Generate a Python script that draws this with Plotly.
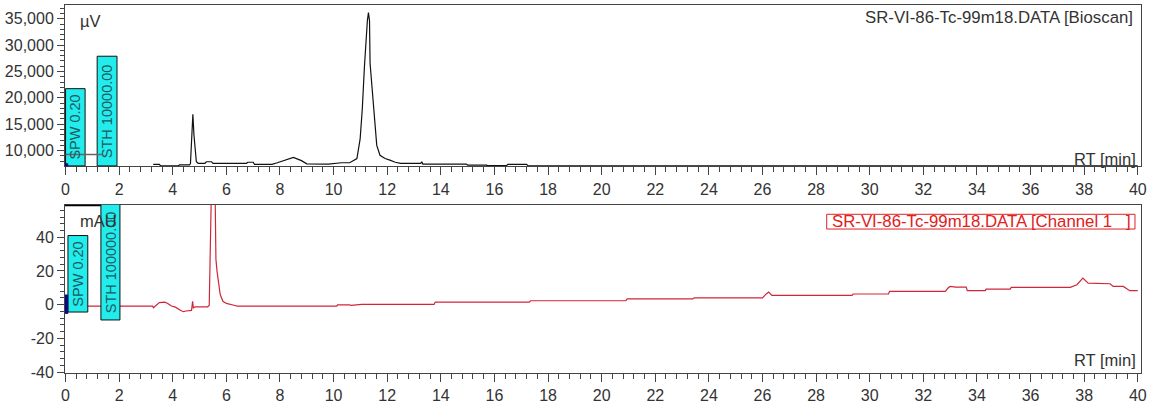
import plotly.graph_objects as go

# ---- Bioscan radio trace (µV) ----
bioscan_rt = [3.27, 3.50, 3.55, 4.20, 4.25, 4.62, 4.66, 4.72, 4.75, 4.79, 4.83, 4.88,
              4.95, 5.20, 5.25, 5.45, 5.50, 6.75, 6.80, 7.00, 7.05, 7.70, 7.90, 8.20,
              8.50, 8.80, 9.00, 9.80, 10.00, 10.30, 10.60, 10.87, 10.99, 11.07, 11.15,
              11.20, 11.26, 11.30, 11.34, 11.36, 11.45, 11.52, 11.61, 11.73, 11.92,
              12.10, 12.30, 12.50, 13.25, 13.29, 13.33, 14.95, 15.00, 15.70, 15.75,
              16.45, 16.50, 17.20, 17.26, 40.00]
bioscan_uv = [7390, 7390, 7100, 7100, 7280, 7280, 7500, 14000, 16900, 13000, 10900, 7890,
              7600, 7600, 7890, 7890, 7600, 7600, 7800, 7800, 7400, 7400, 7700, 8200,
              8700, 8100, 7500, 7450, 7600, 7700, 7700, 8500, 12240, 17840, 25920,
              30280, 34630, 36180, 34630, 26600, 20320, 15350, 10990, 9120, 8510,
              8190, 7800, 7580, 7580, 7890, 7450, 7450, 7260, 7260, 7150,
              7150, 7390, 7390, 7090, 7090]

# ---- UV channel trace (mAU) ----
uv_rt = [0.00, 3.25, 3.28, 3.35, 3.50, 3.70, 3.80, 3.95, 4.10, 4.30, 4.40, 4.50, 4.70,
         4.74, 4.77, 4.83, 5.30, 5.36, 5.39, 5.42, 5.45, 5.51, 5.58, 5.61, 5.65, 5.70,
         5.77, 5.87, 6.00, 6.32, 6.40, 10.12, 10.15, 10.60, 10.65, 11.05, 13.75, 13.79,
         17.30, 17.35, 20.90, 20.95, 23.40, 23.45, 26.00, 26.15, 26.23, 26.35, 29.34,
         29.38, 30.70, 30.74, 32.82, 32.93, 33.00, 33.20, 33.60, 33.64, 34.31, 34.34,
         35.24, 35.28, 37.48, 37.73, 37.95, 38.15, 38.97, 39.08, 39.46, 39.70, 40.00]
uv_mau = [-0.9, -0.9, -1.9, -0.8, 1.2, 1.5, 0.8, -0.8, -1.5, -3.5, -4.2, -3.8, -3.4,
          2.0, -2.0, -1.3, -1.3, -0.5, 25.0, 32.0, 75.0, 160.0, 75.0, 27.0, 20.0, 12.7,
          6.0, 2.0, 0.7, -0.5, -0.9, -0.9, -0.1, -0.1, -0.5, 0.1, 0.1, 1.5,
          1.5, 2.3, 2.3, 3.4, 3.4, 4.0, 4.0, 6.5, 7.5, 5.5, 5.5,
          6.3, 6.3, 7.9, 7.9, 10.0, 10.8, 10.4, 10.4, 8.3, 8.3, 9.2,
          9.2, 10.2, 10.2, 11.8, 15.7, 12.7, 12.4, 10.8, 10.8, 8.3, 8.3]

# ---- axis ticks ----
rt_ticks = list(range(0, 41, 2))
rt_labels = [str(v) for v in rt_ticks]
uv_top_ticks = [10000, 15000, 20000, 25000, 30000, 35000]
uv_top_labels = ["10,000", "15,000", "20,000", "25,000", "30,000", "35,000"]
mau_ticks = [-40, -20, 0, 20, 40]
mau_labels = ["-40", "-20", "0", "20", "40"]

FONT = "Arial, Liberation Sans, sans-serif"
TXT = "#333333"
AX = "#444444"
CYAN = "#22ecec"
BOXTXT = "#1c5a60"

fig = go.Figure()
fig.add_trace(go.Scatter(x=bioscan_rt, y=bioscan_uv, mode="lines",
                         line=dict(color="#111111", width=1.2),
                         xaxis="x", yaxis="y", showlegend=False))
fig.add_trace(go.Scatter(x=uv_rt, y=uv_mau, mode="lines",
                         line=dict(color="#d0263a", width=1.2),
                         xaxis="x2", yaxis="y2", showlegend=False))

xcommon = dict(range=[-0.02, 40.12], tickvals=rt_ticks, ticktext=rt_labels,
               ticks="outside", ticklen=8, tickwidth=1, tickcolor=AX,
               showline=True, linecolor=AX, linewidth=1, mirror=True,
               showgrid=False, zeroline=False,
               tickfont=dict(family=FONT, size=16, color=TXT),
               minor=dict(dtick=0.4, tick0=0, ticks="outside", ticklen=5,
                          tickcolor=AX, showgrid=False))
ycommon = dict(ticks="outside", ticklen=7, tickwidth=1, tickcolor=AX,
               showline=True, linecolor=AX, linewidth=1, mirror=True,
               showgrid=False, zeroline=False,
               tickfont=dict(family=FONT, size=16, color=TXT))

fig.update_layout(
    width=1156, height=408,
    margin=dict(l=65, r=15, t=4, b=30),
    paper_bgcolor="white", plot_bgcolor="white",
    xaxis=dict(anchor="y", **xcommon),
    xaxis2=dict(anchor="y2", **xcommon),
    yaxis=dict(domain=[0.5615, 1.0], range=[7015, 37612],
               tickvals=uv_top_ticks, ticktext=uv_top_labels,
               minor=dict(dtick=1000, tick0=0, ticks="outside", ticklen=4,
                          tickcolor=AX, showgrid=False),
               **ycommon),
    yaxis2=dict(domain=[0.0, 0.4572], range=[-40.58, 59.27],
                tickvals=mau_ticks, ticktext=mau_labels,
                minor=dict(dtick=4, tick0=0, ticks="outside", ticklen=4,
                           tickcolor=AX, showgrid=False),
                **ycommon),
)

# Integration parameter boxes (SPW / STH)
boxes = [
    ("x", "y", 0.00, 0.73, 7100, 21750, "SPW 0.20"),
    ("x", "y", 1.18, 1.92, 7100, 27900, "STH 10000.00"),
    ("x2", "y2", 0.09, 0.83, -4.4, 41.0, "SPW 0.20"),
    ("x2", "y2", 1.32, 2.03, -9.1, 59.9, "STH 100000.00"),
]
for xr, yr, x0, x1, y0, y1, label in boxes:
    fig.add_shape(type="rect", xref=xr, yref=yr, x0=x0, x1=x1, y0=y0, y1=y1,
                  fillcolor=CYAN, line=dict(color="#111111", width=1), layer="above")
    fig.add_annotation(xref=xr, yref=yr, x=(x0 + x1) / 2, y=(y0 + y1) / 2,
                       text=label, textangle=-90, showarrow=False,
                       font=dict(family=FONT, size=14.5, color=BOXTXT))

# threshold marker line and start markers
fig.add_shape(type="line", xref="x", yref="y", x0=0, x1=1.4, y0=9250, y1=9250,
              line=dict(color="#666666", width=1.5), layer="above")
fig.add_shape(type="rect", xref="x", yref="y", x0=-0.02, x1=0.1, y0=6000, y1=7600,
              fillcolor="#0a0a80", line=dict(width=0), layer="above")
fig.add_shape(type="rect", xref="x2", yref="y2", x0=-0.02, x1=0.1, y0=-5.5, y1=6.0,
              fillcolor="#0a0a80", line=dict(width=0), layer="above")
fig.add_shape(type="line", xref="x2", yref="y2", x0=-0.02, x1=1.32, y0=59.0, y1=59.0,
              line=dict(color="#000000", width=2), layer="above")

# unit labels
fig.add_annotation(xref="paper", yref="paper", x=0.0121, y=0.957, text="µV",
                   showarrow=False, xanchor="left", yanchor="middle",
                   font=dict(family=FONT, size=16.5, color=TXT))
fig.add_annotation(xref="paper", yref="paper", x=0.0121, y=0.4118, text="mAU",
                   showarrow=False, xanchor="left", yanchor="middle",
                   font=dict(family=FONT, size=16.5, color=TXT))

# trace names
fig.add_annotation(xref="paper", yref="paper", x=0.9944, y=0.9652,
                   text="SR-VI-86-Tc-99m18.DATA [Bioscan]", showarrow=False,
                   xanchor="right", yanchor="middle",
                   font=dict(family=FONT, size=16.8, color=TXT))
fig.add_shape(type="rect", xref="paper", yref="paper", x0=0.7079, x1=0.9944,
              y0=0.3912, y1=0.4313, line=dict(color="#e02020", width=1),
              fillcolor="rgba(0,0,0,0)")
fig.add_annotation(xref="paper", yref="paper", x=0.9926, y=0.4118,
                   text="SR-VI-86-Tc-99m18.DATA [Channel 1   ]", showarrow=False,
                   xanchor="right", yanchor="middle",
                   font=dict(family=FONT, size=16.8, color="#e02020"))

# axis titles inside plots
fig.add_annotation(xref="paper", yref="paper", x=0.9972, y=0.581, text="RT [min]",
                   showarrow=False, xanchor="right", yanchor="middle",
                   font=dict(family=FONT, size=16.5, color=TXT))
fig.add_annotation(xref="paper", yref="paper", x=0.9972, y=0.0348, text="RT [min]",
                   showarrow=False, xanchor="right", yanchor="middle",
                   font=dict(family=FONT, size=16.5, color=TXT))

fig.write_html("out.html")
